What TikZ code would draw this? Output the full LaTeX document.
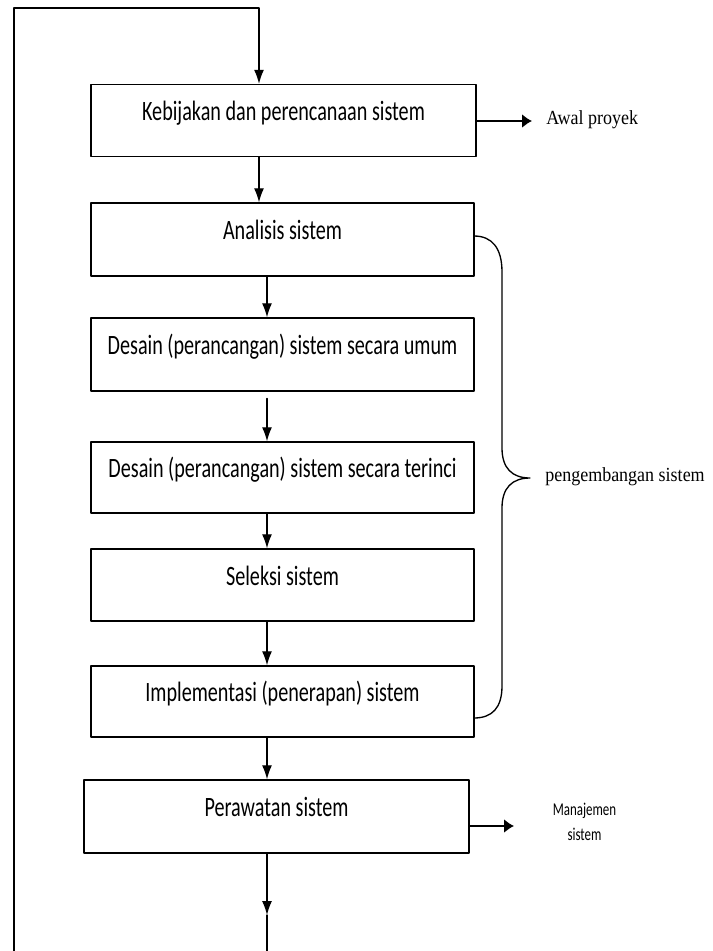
\documentclass[tikz,border=0pt]{standalone}
\usepackage{fontspec}
\setmainfont{Carlito}[FakeStretch=0.72]
\newfontfamily\labelfont{Liberation Serif}[FakeStretch=0.9]
\usetikzlibrary{arrows.meta}

\begin{document}
\begin{tikzpicture}[x=0.75pt, y=-0.75pt, line cap=round, line join=round,
		>={Latex[length=10.5pt,width=7.5pt]},
		stage/.style={draw, line width=1.1pt, minimum width=287.25pt, minimum height=54pt,
			inner sep=0pt, text height=15pt, text depth=15pt,
			font=\fontsize{21pt}{25pt}\selectfont},
		flow/.style={->, line width=0.9pt},
		side/.style={-{Latex[length=7.5pt,width=10.5pt]}, line width=1.3pt},
		note/.style={inner sep=0pt, font=\labelfont\fontsize{15pt}{18pt}\selectfont}]
	
	% Bounding box of the page
	\useasboundingbox (0,0) rectangle (713,951);
	
	% Stages of the cycle
	\node[stage, minimum width=288.75pt] (kebijakan) at (283.5,120.5) {Kebijakan dan perencanaan sistem};
	\node[stage, minimum height=54.75pt] (analisis) at (282.5,239.5) {Analisis sistem};
	\node[stage, minimum height=54.75pt] (umum) at (282.5,354.5) {Desain (perancangan) sistem secara umum};
	\node[stage, minimum height=53.25pt] (terinci) at (282.5,477.5) {Desain (perancangan) sistem secara terinci};
	\node[stage] (seleksi) at (282.5,585) {Seleksi sistem};
	\node[stage, minimum height=53.25pt] (implementasi) at (282.5,701.5) {Implementasi (penerapan) sistem};
	\node[stage, minimum width=288.75pt, minimum height=54.75pt] (perawatan) at (276.5,816.5) {Perawatan sistem};
	
	% Side labels
	\node[note, anchor=base west] (awal) at (546,124) {Awal proyek};
	\node[note, anchor=base west] (pengembangan) at (545,481) {pengembangan sistem};
	\node[align=center, inner sep=0pt, font=\fontsize{13.5pt}{18.5pt}\selectfont] (manajemen) at (584.5,822) {Manajemen\\sistem};
	
	% Columns of the down arrows
	\coordinate (loopL) at (14,951);
	\coordinate (loopR) at (259,8);
	\coordinate (colA) at (259,0);
	\coordinate (colB) at (267,0);
	\coordinate (tipEnd) at (267,915);
	\coordinate (bottom) at (267,951);
	
	% Feedback loop into the first stage
	\draw[flow] (loopL) |- (loopR) -- (kebijakan.north -| loopR);
	
	% Down arrows
	\draw[flow] (kebijakan.south -| colA) -- (analisis.north -| colA);
	\draw[flow] (analisis.south -| colB) -- (umum.north -| colB);
	\draw[flow, shorten <=5pt] (umum.south -| colB) -- (terinci.north -| colB);
	\draw[flow] (terinci.south -| colB) -- (seleksi.north -| colB);
	\draw[flow] (seleksi.south -| colB) -- (implementasi.north -| colB);
	\draw[flow] (implementasi.south -| colB) -- (perawatan.north -| colB);
	\draw[flow] (perawatan.south -| colB) -- (tipEnd);
	\draw[line width=0.9pt] (tipEnd) -- (bottom);
	
	% Arrows to the side labels
	\draw[side] (kebijakan.east |- 0,121) -- (532,121);
	\draw[side] (perawatan.east |- 0,826) -- (514,826);
	
	% Brace over the development stages
	\draw[line width=1pt] (474,236) .. controls (492,236) and (502,248) .. (502,272)
		-- (502,448) .. controls (502,468) and (512,478) .. (530,478)
		.. controls (512,478) and (502,488) .. (502,508)
		-- (502,686) .. controls (502,708) and (492,718) .. (474,718);
	
\end{tikzpicture}
\end{document}
